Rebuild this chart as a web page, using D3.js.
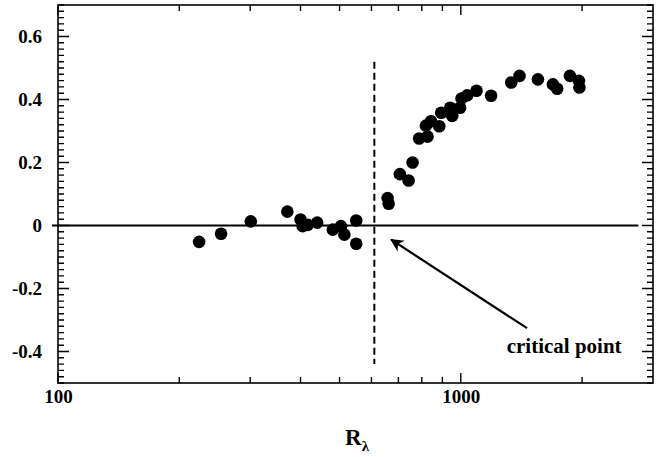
<!DOCTYPE html>
<html>
<head>
<meta charset="utf-8">
<script src="https://cdn.jsdelivr.net/npm/d3@7"></script>
<style>
  body { margin: 0; background: #fff; }
  svg { display: block; }
  text { font-family: "Liberation Serif", "Times New Roman", serif; font-weight: bold; fill: #000; }
</style>
</head>
<body>
<svg></svg>
<script>
// data
let rValues = [224, 254, 301, 371, 400, 405, 417, 440, 481, 504, 514, 550, 550,
               658, 662, 706, 742, 759, 788, 827, 819, 843, 884, 894, 941, 952, 996,
               1004, 1037, 1094, 1189, 1334, 1399, 1554, 1693, 1735, 1866, 1964, 1970]
let yValues = [-0.052, -0.026, 0.013, 0.044, 0.019, -0.002, 0.002, 0.009, -0.013, -0.002, -0.029, 0.016, -0.058,
               0.087, 0.069, 0.163, 0.143, 0.200, 0.276, 0.282, 0.317, 0.331, 0.315, 0.358, 0.374, 0.348, 0.374,
               0.403, 0.413, 0.428, 0.412, 0.454, 0.475, 0.464, 0.448, 0.434, 0.475, 0.459, 0.438]

let xMajorTicks = [100, 1000]
let xMinorTicks = [200, 300, 400, 500, 600, 700, 800, 900, 2000]
let yMajorTicks = [-0.4, -0.2, 0, 0.2, 0.4, 0.6]

let criticalR = 610
let zeroLineEnd = 2760
let arrowFrom = [1460, -0.326]
let arrowTo = [672, -0.045]
let labelAt = [1300, -0.405]

let width = 665
let height = 457
let margin = {left: 58, top: 5, right: 12, bottom: 74}
let plotW = width - margin.left - margin.right
let plotH = height - margin.top - margin.bottom

let svg = d3.select('svg').attr('width', width).attr('height', height)

svg.append('defs').append('marker')
    .attr('id', 'head')
    .attr('viewBox', '0 0 10 10')
    .attr('refX', 9).attr('refY', 5)
    .attr('markerWidth', 7).attr('markerHeight', 6)
    .attr('markerUnits', 'strokeWidth')
    .attr('orient', 'auto')
    .append('path').attr('d', 'M0,0 L10,5 L0,10 L3,5 Z').attr('fill', '#000')

let g = svg.append('g').attr('transform', 'translate(' + margin.left + ',' + margin.top + ')')

let xScale = d3.scaleLog().domain([100, 3000]).range([0, plotW])
let yScale = d3.scaleLinear().domain([-0.5, 0.7]).range([plotH, 0])

let yMinor = d3.range(-50, 71, 2).map(d => d / 100).filter(d => Math.abs(d * 5 - Math.round(d * 5)) > 1e-6)

// frame
g.append('rect')
    .attr('width', plotW).attr('height', plotH)
    .attr('fill', 'none').attr('stroke', '#000').attr('stroke-width', 1.6)

// inward ticks on all four sides, drawn as one path
let xTicks = xMinorTicks.map(d => [d, 6]).concat(xMajorTicks.map(d => [d, 10]))
let yTicks = yMinor.map(d => [d, 6]).concat(yMajorTicks.map(d => [d, 11]))

let tickPath = d3.path()
xTicks.forEach(d => {
    let x = xScale(d[0])
    tickPath.moveTo(x, plotH); tickPath.lineTo(x, plotH - d[1])
    tickPath.moveTo(x, 0); tickPath.lineTo(x, d[1])
})
yTicks.forEach(d => {
    let y = yScale(d[0])
    tickPath.moveTo(0, y); tickPath.lineTo(d[1], y)
    tickPath.moveTo(plotW, y); tickPath.lineTo(plotW - d[1], y)
})
g.append('path')
    .attr('d', tickPath.toString())
    .attr('fill', 'none')
    .attr('stroke', '#000')
    .attr('stroke-width', 1.4)

// tick labels
let yFormat = d => d === 0 ? '0' : (d < 0 ? '-' : '') + d3.format('.1f')(Math.abs(d))

g.append('g').attr('transform', 'translate(0,' + plotH + ')')
    .call(d3.axisBottom(xScale).tickValues(xMajorTicks).tickSize(0).tickPadding(7).tickFormat(d3.format('d')))
    .call(sel => {
        sel.select('.domain').remove()
        sel.attr('font-family', null).attr('font-size', null)
        sel.selectAll('text').style('font-size', '19px').attr('fill', '#000')
    })
g.append('g')
    .call(d3.axisLeft(yScale).tickValues(yMajorTicks).tickSize(0).tickPadding(16).tickFormat(yFormat))
    .call(sel => {
        sel.select('.domain').remove()
        sel.attr('font-family', null).attr('font-size', null)
        sel.selectAll('text').style('font-size', '19px').attr('fill', '#000')
    })

// zero line
g.append('line')
    .attr('x1', -6).attr('x2', xScale(zeroLineEnd))
    .attr('y1', yScale(0)).attr('y2', yScale(0))
    .attr('stroke', '#000').attr('stroke-width', 2)

// critical point dashed line
g.append('line')
    .attr('x1', xScale(criticalR)).attr('x2', xScale(criticalR))
    .attr('y1', yScale(0.52)).attr('y2', yScale(-0.44))
    .attr('stroke', '#000').attr('stroke-width', 2)
    .attr('stroke-dasharray', '7,4')

// points
g.selectAll('circle')
    .data(rValues.map((r, i) => [r, yValues[i]]))
    .enter()
    .append('circle')
    .attr('cx', d => xScale(d[0]))
    .attr('cy', d => yScale(d[1]))
    .attr('r', 6.3)
    .attr('fill', '#000')

// annotation
g.append('line')
    .attr('x1', xScale(arrowFrom[0])).attr('y1', yScale(arrowFrom[1]))
    .attr('x2', xScale(arrowTo[0])).attr('y2', yScale(arrowTo[1]))
    .attr('stroke', '#000').attr('stroke-width', 2.2)
    .attr('marker-end', 'url(#head)')

g.append('text')
    .attr('x', xScale(labelAt[0])).attr('y', yScale(labelAt[1]))
    .style('font-size', '21px')
    .text('critical point')

// axis title
let title = svg.append('text')
    .attr('x', 345).attr('y', 445)
    .style('font-size', '23px')
title.append('tspan').text('R')
title.append('tspan').attr('dy', 6).style('font-size', '15px').text('λ')
</script>
</body>
</html>
